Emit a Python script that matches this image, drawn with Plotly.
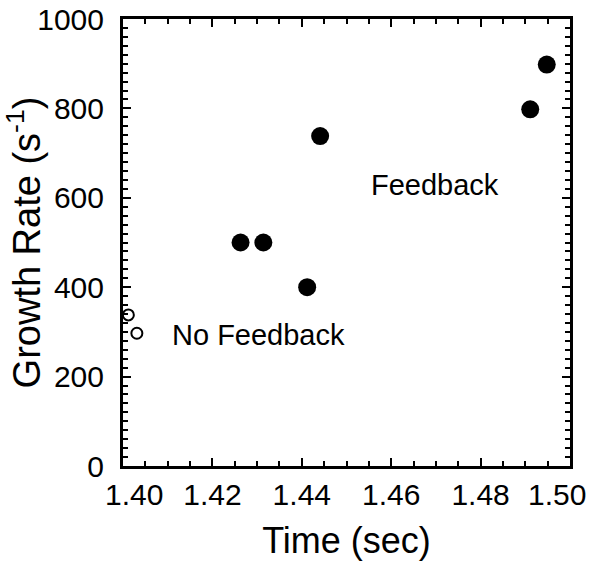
import plotly.graph_objects as go

# Data
fb_time = [1.4263, 1.4314, 1.4412, 1.4441, 1.4911, 1.4948]
fb_rate = [500, 500, 400, 738, 798, 898]
nofb_time = [1.4012, 1.4031]
nofb_rate = [338, 297]

x_ticks = [1.40, 1.42, 1.44, 1.46, 1.48, 1.50]
x_ticklabels = ["1.40", "1.42", "1.44", "1.46", "1.48", "1.50"]
y_ticks = [0, 200, 400, 600, 800, 1000]

FONT = "Liberation Sans, Arial, sans-serif"
TICKFONT = dict(family=FONT, size=30, color="black")

fig = go.Figure()
fig.add_trace(go.Scatter(x=fb_time, y=fb_rate, mode="markers",
                         marker=dict(color="black", size=18, line=dict(width=0)),
                         cliponaxis=False, showlegend=False))
fig.add_trace(go.Scatter(x=nofb_time, y=nofb_rate, mode="markers",
                         marker=dict(color="white", size=11, line=dict(color="black", width=2)),
                         cliponaxis=False, showlegend=False))

fig.add_annotation(x=1.4698, y=629, text="Feedback", showarrow=False,
                   font=dict(family=FONT, size=29, color="black"), xanchor="center", yanchor="middle")
fig.add_annotation(x=1.4105, y=293, text="No Feedback", showarrow=False,
                   font=dict(family=FONT, size=29, color="black"), xanchor="left", yanchor="middle")

# edge tick labels are nudged inward in the reference; draw them as axis-anchored text
inner_text = [""] + x_ticklabels[1:-1] + [""]
fig.add_annotation(x=x_ticks[0], y=0, xref="x", yref="paper", text=x_ticklabels[0],
                   showarrow=False, font=TICKFONT, xanchor="center", yanchor="top",
                   xshift=11, yshift=-11, borderpad=0)
fig.add_annotation(x=x_ticks[-1], y=0, xref="x", yref="paper", text=x_ticklabels[-1],
                   showarrow=False, font=TICKFONT, xanchor="center", yanchor="top",
                   xshift=-13, yshift=-11, borderpad=0)

axis_common = dict(showline=True, linecolor="black", linewidth=3, mirror="allticks",
                   ticks="inside", ticklen=8, tickwidth=2, tickcolor="black",
                   showgrid=False, zeroline=False, automargin=False,
                   tickfont=TICKFONT)

fig.update_xaxes(range=[1.40, 1.500001], tickvals=x_ticks, ticktext=inner_text,
                 minor=dict(dtick=0.005, tick0=1.40, ticks="inside", ticklen=5, tickwidth=2, tickcolor="black", showgrid=False),
                 title=dict(text="Time (sec)", font=dict(family=FONT, size=36, color="black"), standoff=18),
                 **axis_common)
fig.update_yaxes(range=[0, 1000.001], tickvals=y_ticks,
                 minor=dict(dtick=20, tick0=0, ticks="inside", ticklen=5, tickwidth=2, tickcolor="black", showgrid=False),
                 title=dict(text="Growth Rate (s<sup>-1</sup>)", font=dict(family=FONT, size=38, color="black"), standoff=8),
                 ticklabelstandoff=10,
                 **axis_common)

fig.update_layout(width=597, height=567, margin=dict(l=123, r=27, t=19, b=101),
                  plot_bgcolor="white", paper_bgcolor="white", template="none")

fig.write_html("out.html")
